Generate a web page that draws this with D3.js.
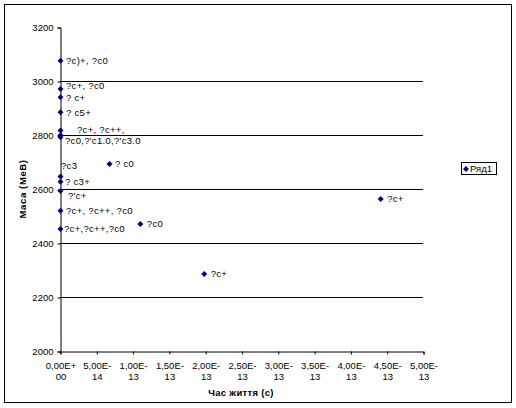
<!DOCTYPE html>
<html><head><meta charset="utf-8">
<script src="https://cdn.jsdelivr.net/npm/d3@7"></script>
<style>
body{margin:0;background:#fff;}
svg text{font-family:"Liberation Sans",Arial,sans-serif;fill:#000;}
</style></head>
<body><svg id="c" width="516" height="408"></svg>
<script>
// Data
const pointLabels = ["?c)+, ?c0","?c+, ?c0","? c+","? c5+","?c+, ?c++,","?c0,?'c1.0,?'c3.0","","? c0","?c3","? c3+","?'c+","?c+, ?c++, ?c0","?c+,?c++,?c0","?c0","?c+","?c+"];
const lifetimes = [0,0,0,0,0,0,0,6.75e-14,0,0,0,0,0,1.10e-13,1.98e-13,4.41e-13];
const masses = [3075,2970,2940,2884,2817,2799,2792,2693,2646,2627,2593,2519,2452,2470,2285,2563];
const yTicks = [2000,2200,2400,2600,2800,3000,3200];
const xTicks = [0,5e-14,1e-13,1.5e-13,2e-13,2.5e-13,3e-13,3.5e-13,4e-13,4.5e-13,5e-13];
const xTickLabels = [["0,00E+","00"],["5,00E-","14"],["1,00E-","13"],["1,50E-","13"],["2,00E-","13"],["2,50E-","13"],["3,00E-","13"],["3,50E-","13"],["4,00E-","13"],["4,50E-","13"],["5,00E-","13"]];
const seriesName = "Ряд1";
const xTitle = "Час життя (с)";
const yTitle = "Маса (МеВ)";
// label placement (layout, not data)
const labelOffsets = [[6,0],[6,-3],[6,0],[6,0],[17,-1],[5,5],[0,0],[6,0],[1,-11],[5,0],[8,5],[6,0],[4,0],[7,0],[7,0],[7,0]];

const svg = d3.select("#c");
const fs = "9.5px";
svg.append("rect").attr("x",4.5).attr("y",4.5).attr("width",507).attr("height",398)
  .attr("fill","#fff").attr("stroke","#000").attr("stroke-width",1);

const x = d3.scaleLinear().domain([0,5e-13]).range([60,423]);
const y = d3.scaleLinear().domain([2000,3200]).range([351,27]);

// gridlines
svg.append("g").selectAll("line").data(yTicks.filter(v=>v>2000&&v<3200)).join("line")
  .attr("x1",x(0)).attr("x2",x(5e-13)).attr("y1",d=>Math.round(y(d))+0.5).attr("y2",d=>Math.round(y(d))+0.5)
  .attr("stroke","#000").attr("stroke-width",1);

// y axis
const ya = svg.append("g").attr("transform",`translate(${x(0)+0.5},0.5)`)
  .call(d3.axisLeft(y).tickValues(yTicks).tickSize(3).tickPadding(4).tickFormat(d3.format("d")));
ya.select(".domain").attr("stroke","#000");
ya.selectAll(".tick line").attr("stroke","#000");
ya.selectAll("text").style("font-size",fs);

// x axis
const xa = svg.append("g").attr("transform",`translate(0.5,${y(2000)+0.5})`)
  .call(d3.axisBottom(x).tickValues(xTicks).tickSize(3).tickFormat(""));
xa.select(".domain").attr("stroke","#000");
xa.selectAll(".tick line").attr("stroke","#000");
xa.selectAll(".tick").each(function(d,i){
  const t = d3.select(this).append("text").attr("text-anchor","middle").style("font-size",fs);
  t.append("tspan").attr("x",0).attr("y",17).text(xTickLabels[i][0]);
  t.append("tspan").attr("x",0).attr("y",28).text(xTickLabels[i][1]);
});

// titles
svg.append("text").attr("x",241).attr("y",396).attr("text-anchor","middle")
  .style("font-size",fs).style("font-weight","bold").style("letter-spacing","0.3px").text(xTitle);
svg.append("text").attr("transform","translate(26,189) rotate(-90)").attr("text-anchor","middle")
  .style("font-size",fs).style("font-weight","bold").style("letter-spacing","0.6px").text(yTitle);

// points
const diamond = "M0,-3L3,0L0,3L-3,0Z";
const idx = d3.range(masses.length);
svg.append("g").selectAll("path").data(idx).join("path")
  .attr("d",diamond).attr("fill","#000080")
  .attr("transform",i=>`translate(${x(lifetimes[i])+0.5},${y(masses[i])})`);
svg.append("g").selectAll("text").data(idx).join("text")
  .attr("x",i=>x(lifetimes[i])+labelOffsets[i][0])
  .attr("y",i=>y(masses[i])+labelOffsets[i][1])
  .attr("dy","0.35em").style("font-size",fs).style("letter-spacing","0.3px").text(i=>pointLabels[i]);

// legend
const lg = svg.append("g");
lg.append("rect").attr("x",461.5).attr("y",162.5).attr("width",35).attr("height",12)
  .attr("fill","#fff").attr("stroke","#000");
lg.append("path").attr("d",diamond).attr("fill","#000080").attr("transform","translate(466,169)");
lg.append("text").attr("x",470).attr("y",169).attr("dy","0.35em").style("font-size",fs).text(seriesName);
</script></body></html>
